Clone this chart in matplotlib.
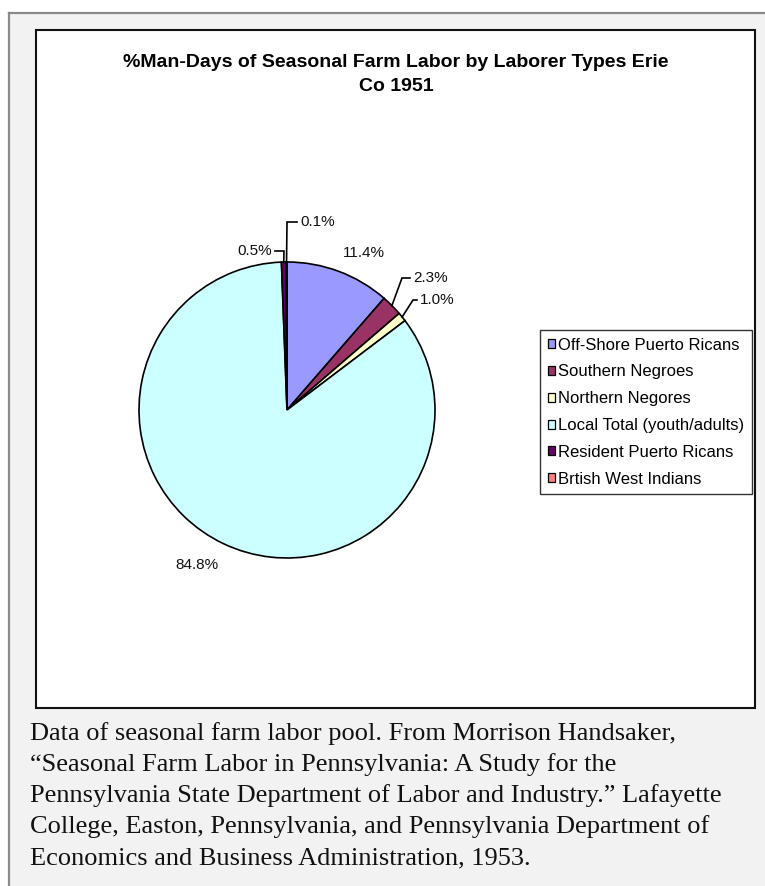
import matplotlib.pyplot as plt
import numpy as np
from matplotlib.patches import Rectangle, Patch
from matplotlib.lines import Line2D

categories = ["Off-Shore Puerto Ricans", "Southern Negroes", "Northern Negores",
              "Local Total (youth/adults)", "Resident Puerto Ricans", "Brtish West Indians"]
shares = [11.4, 2.3, 1.0, 84.8, 0.5, 0.1]
colors = ["#9999FF", "#993366", "#FFFFCC", "#CCFFFF", "#660066", "#FF8080"]

title_lines = ["%Man-Days of Seasonal Farm Labor by Laborer Types Erie", "Co 1951"]
caption_lines = [
    "Data of seasonal farm labor pool. From Morrison Handsaker,",
    "\u201cSeasonal Farm Labor in Pennsylvania: A Study for the",
    "Pennsylvania State Department of Labor and Industry.\u201d Lafayette",
    "College, Easton, Pennsylvania, and Pennsylvania Department of",
    "Economics and Business Administration, 1953.",
]

W, H = 765, 886
fig = plt.figure(figsize=(W / 100, H / 100), dpi=100)
fig.patch.set_facecolor("white")


def fx(x):
    return x / W


def fy(y):
    return 1 - y / H


# grey page panel with border on top/left (kept behind the axes)
fig.add_artist(Rectangle((fx(9), 0), 1, fy(13), transform=fig.transFigure,
                         facecolor="#f2f2f2", edgecolor="none", zorder=-3))
fig.add_artist(Line2D([fx(9), fx(9)], [0, fy(13)], transform=fig.transFigure,
                      color="#8a8a8a", lw=1.6, zorder=-2))
fig.add_artist(Line2D([fx(9), 1], [fy(13), fy(13)], transform=fig.transFigure,
                      color="#8a8a8a", lw=1.6, zorder=-2))
# white chart area
fig.add_artist(Rectangle((fx(36), fy(708)), fx(755) - fx(36), fy(30) - fy(708),
                         transform=fig.transFigure, facecolor="white",
                         edgecolor="#111111", lw=1.5, zorder=-2))

for i, line in enumerate(title_lines):
    fig.text(fx(396), fy(67 + 24 * i), line, ha="center", va="baseline",
             fontsize=14, fontweight="bold", family="Liberation Sans")

for i, line in enumerate(caption_lines):
    fig.text(fx(30), fy(740 + 31 * i), line, ha="left", va="baseline",
             fontsize=19, family="Liberation Serif", color="#111111")

# pie: centre (287, 410), radius 148 px
ax = fig.add_axes([fx(139), fy(558), fx(296), 296 / H])
ax.set_zorder(1)
wedges, _ = ax.pie(shares, colors=colors, startangle=90, counterclock=False,
                   radius=1, wedgeprops=dict(edgecolor="black", linewidth=1.2))
ax.set_xlim(-1, 1)
ax.set_ylim(-1, 1)
ax.axis("off")


def dpx(x, y):
    return (x - 287) / 148, (410 - y) / 148


# label layout: text anchor (px), alignment, elbow of leader (px) or None
label_layout = [
    ((364, 253), "center", None),
    ((413, 278), "left", (402, 278)),
    ((420, 300), "left", (413, 300)),
    ((197, 565), "center", None),
    ((272, 251), "right", (284, 251)),
    ((300, 222), "left", (287, 222)),
]

for w, val, (pos, ha, elbow) in zip(wedges, shares, label_layout):
    tx, ty = dpx(*pos)
    ax.text(tx, ty, f"{val:.1f}%", ha=ha, va="center", fontsize=11,
            family="Liberation Sans", color="#111111")
    if elbow is not None:
        mid = np.deg2rad((w.theta1 + w.theta2) / 2)
        ex, ey = np.cos(mid), np.sin(mid)
        bx, by = dpx(*elbow)
        gap = 3 / 148
        endx = tx - gap if ha == "left" else tx + gap
        ax.plot([ex, bx, endx], [ey, by, by], color="black", lw=1.2,
                clip_on=False, solid_joinstyle="miter")

handles = [Patch(facecolor=c, edgecolor="black", lw=0.9) for c in colors]
leg = fig.legend(handles, categories, loc="upper left",
                 bbox_to_anchor=(fx(540), fy(330)),
                 prop={"family": "Liberation Sans", "size": 12},
                 handlelength=0.45, handleheight=0.45, handletextpad=0.2,
                 labelspacing=0.71, borderpad=0.45, borderaxespad=0,
                 frameon=True, fancybox=False, edgecolor="black")
leg.get_frame().set_linewidth(1)
leg.set_zorder(2)

fig.savefig("out.png", dpi=100)
